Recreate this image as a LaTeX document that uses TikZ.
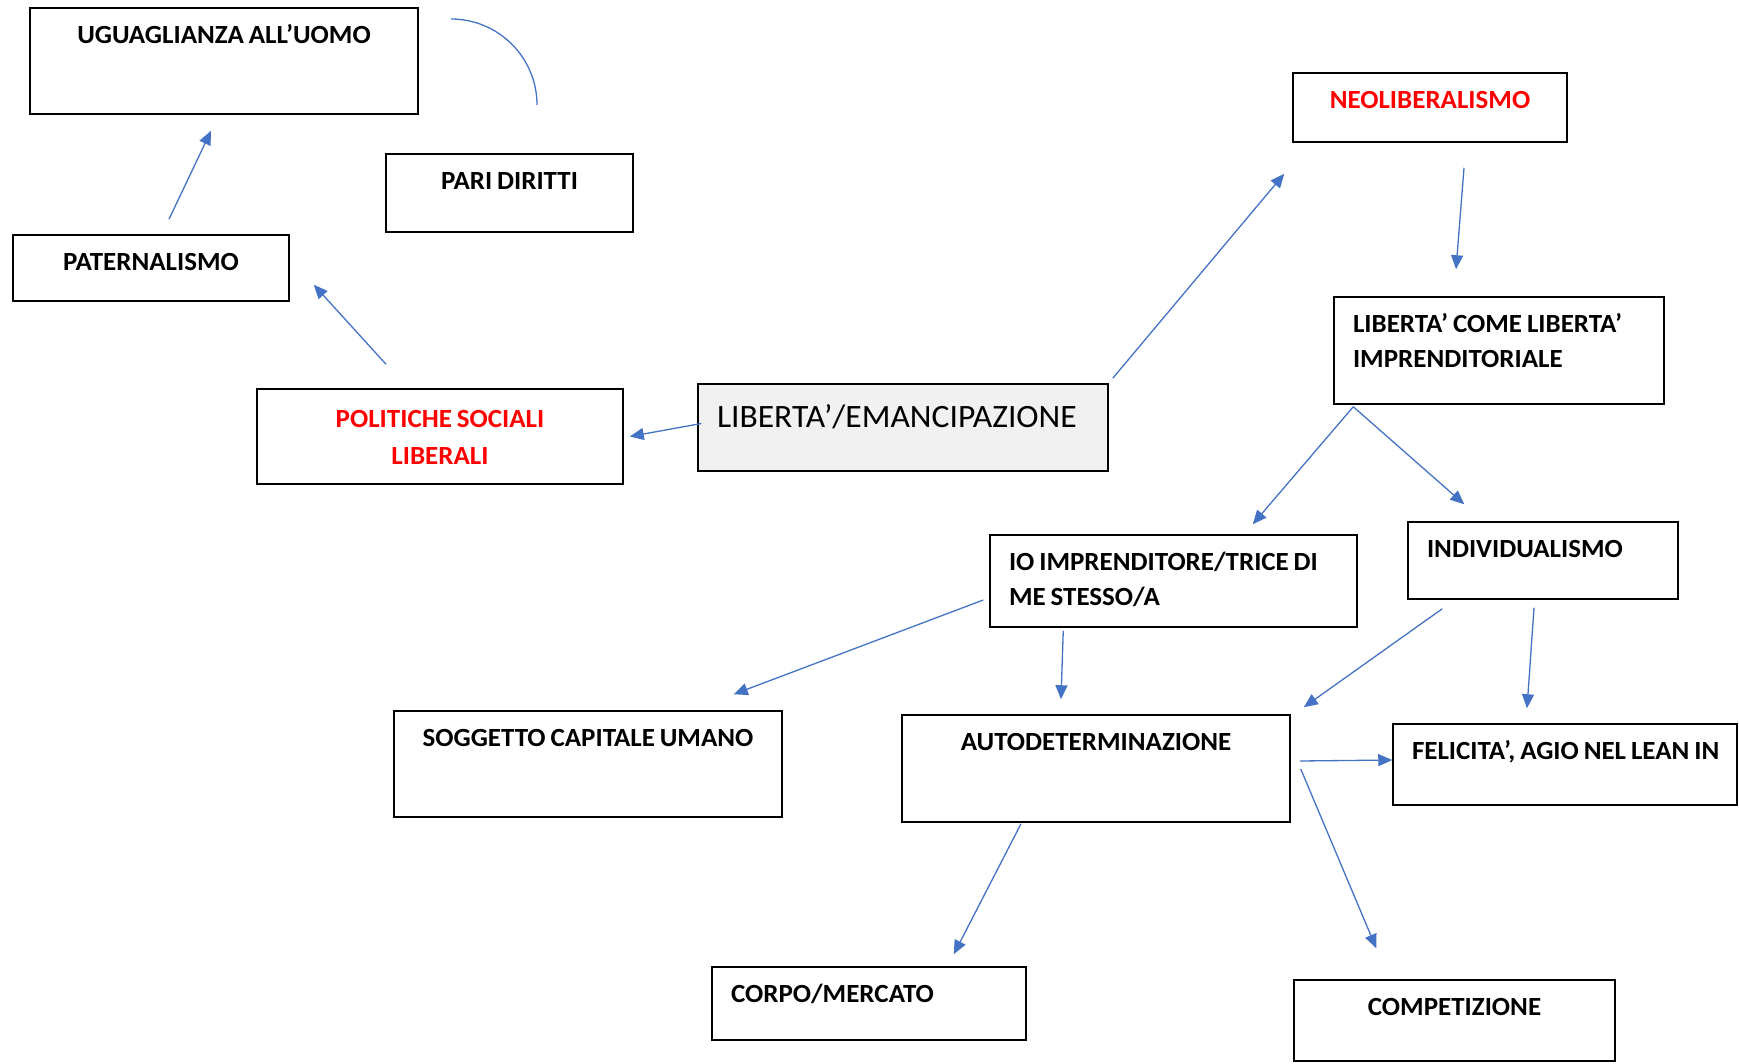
\documentclass[tikz,border=0pt]{standalone}
\usepackage{fontspec}
\setmainfont{Carlito}[WordSpace=0.8, FakeStretch=1.03]
\usetikzlibrary{arrows.meta,calc}
\definecolor{arrowblue}{HTML}{4472C4}
\definecolor{titlered}{HTML}{FF0000}
\definecolor{lightfill}{HTML}{F1F1F1}
\begin{document}
\begin{tikzpicture}[x=1pt, y=-1pt,
    box/.style={draw, line width=1.5pt, inner xsep=19pt, inner ysep=0pt,
      align=flush left, text height=35pt, font=\bfseries\fontsize{26.2}{35}\selectfont,
      execute at begin node={\spaceskip=0pt\xspaceskip=0pt\relax}},
    mid/.style={align=flush center},
    link/.style={draw=arrowblue, line width=1.3pt, -{Triangle[length=14pt,width=12pt]}}]
    \useasboundingbox (0,0) rectangle (1739,1063);
    % left side
    \node[box, mid, text width=350pt, text depth=71pt] (ugu) at (224,61) {UGUAGLIANZA ALL'UOMO};
    \node[box, mid, text width=209pt, text depth=43pt] (pari) at (509.5,193) {PARI DIRITTI};
    \node[box, mid, text width=238pt, text depth=31pt] (pat) at (151,268) {PATERNALISMO};
    \node[box, mid, text width=328pt, text height=38.5pt, text depth=56.5pt, text=titlered,
      font=\bfseries\fontsize{26.2}{37}\selectfont] (pol) at (440,436.5) {POLITICHE SOCIALI\\LIBERALI};
    % centre
    \node[box, fill=lightfill, text width=372pt, text height=43pt, text depth=44pt,
      font=\fontsize{32.6}{40}\selectfont] (lib) at (903,427.5) {LIBERTA'/EMANCIPAZIONE};
    % right side
    \node[box, mid, text width=236pt, text depth=34pt, text=titlered] (neo) at (1430,107.5) {NEOLIBERALISMO};
    \node[box, text width=292pt, text depth=72pt] (lcl) at (1499,350.5) {LIBERTA' COME LIBERTA'\\IMPRENDITORIALE};
    \node[box, text width=329pt, text depth=57pt] (io) at (1173.5,581) {IO IMPRENDITORE/TRICE DI\\ME STESSO/A};
    \node[box, text width=232pt, text depth=42pt] (ind) at (1543,560.5) {INDIVIDUALISMO};
    % bottom
    \node[box, mid, text width=350pt, text depth=71pt] (sog) at (588,764) {SOGGETTO CAPITALE UMANO};
    \node[box, mid, text width=350pt, text depth=72pt] (aut) at (1096,768.5) {AUTODETERMINAZIONE};
    \node[box, text width=306pt, text depth=46pt] (fel) at (1565,764.5) {\mbox{FELICITA', AGIO NEL LEAN IN}};
    \node[box, text width=276pt, text depth=38pt] (cor) at (869,1003.5) {CORPO/MERCATO};
    \node[box, mid, text width=283pt, text depth=46pt] (com) at (1454.5,1020.5) {COMPETIZIONE};
    % arrows
    \draw[link] ($(pat.north)+(18,-15)$) -- ($(ugu.south)+(-13,16)$);
    \draw[link] ($(pol.north)+(-54,-24)$) -- ($(pat.south east)+(24,-17)$);
    \draw[link] ($(lib.west)+(4,-4)$) -- ($(pol.east)+(6,0)$);
    \draw[link] ($(lib.north east)+(4,-5)$) -- ($(neo.south west)+(-8,31)$);
    \draw[link] ($(neo.south)+(34,25)$) -- ($(lcl.north)+(-43,-27)$);
    \draw[link] ($(lcl.south west)+(20,2)$) -- ($(io.north east)+(-105,-10)$);
    \draw[link] ($(lcl.south west)+(20,2)$) -- ($(ind.north west)+(57,-17)$);
    \draw[link] ($(io.west)+(-6,19)$) -- ($(sog.north east)+(-49,-16)$);
    \draw[link] ($(io.south west)+(74,3)$) -- ($(aut.north)+(-35,-15)$);
    \draw[link] ($(ind.south west)+(35,9)$) -- ($(aut.north east)+(13,-7)$);
    \draw[link] ($(ind.south)+(-9,8)$) -- ($(fel.north)+(-38,-15)$);
    \draw[link] ($(aut.east)+(9,-7.5)$) -- ($(fel.west)+(0,-4.5)$);
    \draw[link] ($(aut.east)+(10,0.5)$) -- ($(com.north west)+(83,-31)$);
    \draw[link] ($(aut.south)+(-75,1)$) -- ($(cor.north east)+(-73,-12)$);
    % arc
    \coordinate (arcstart) at (451,19);
    \draw[arrowblue, line width=1.3pt] (arcstart) arc[start angle=-90, end angle=0, radius=86];
\end{tikzpicture}
\end{document}
